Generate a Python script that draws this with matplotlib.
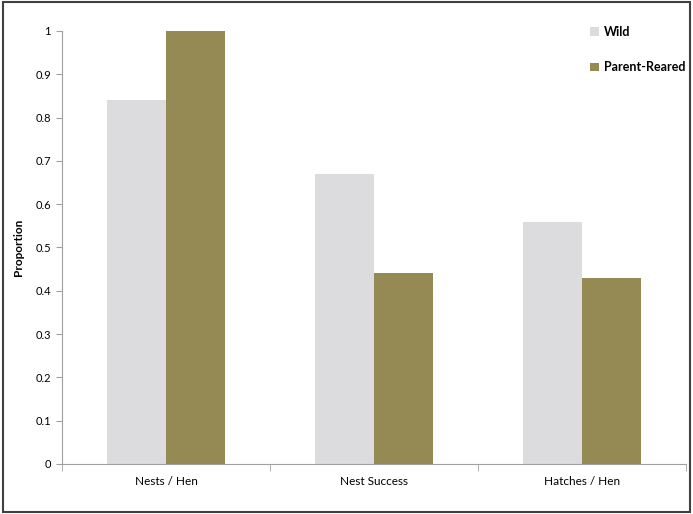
import matplotlib.pyplot as plt
import numpy as np
from matplotlib.patches import Rectangle

categories = ["Nests / Hen", "Nest Success", "Hatches / Hen"]
wild = [0.84, 0.67, 0.56]
parent_reared = [1.0, 0.44, 0.43]

plt.rcParams['font.family'] = ['Lato', 'DejaVu Sans']

fig = plt.figure(figsize=(6.93, 5.14), dpi=100)
ax = fig.add_axes([0.0895, 0.0973, 0.9005, 0.8424])

x = np.arange(len(categories))
w = 0.284
ax.bar(x - w / 2, wild, w, color='#dcdcde', label='Wild')
ax.bar(x + w / 2, parent_reared, w, color='#958a54', label='Parent-Reared')

ax.set_xlim(-0.5, 2.5)
ax.set_ylim(0, 1)
ax.set_yticks(np.arange(0, 1.01, 0.1))
ax.set_yticklabels(['0', '0.1', '0.2', '0.3', '0.4', '0.5', '0.6', '0.7', '0.8', '0.9', '1'])
ax.set_xticks(x)
ax.set_xticklabels(categories)
ax.set_xticks([-0.5, 0.5, 1.5, 2.5], minor=True)
ax.tick_params(axis='x', which='major', length=0, pad=9, labelsize=8.5)
ax.tick_params(axis='x', which='minor', length=5, color='#a0a0a0', direction='out')
ax.tick_params(axis='y', length=4, color='#a0a0a0', labelsize=8, pad=4)

for s in ['top', 'right']:
    ax.spines[s].set_visible(False)
for s in ['left', 'bottom']:
    ax.spines[s].set_color('#a0a0a0')
    ax.spines[s].set_linewidth(0.8)

ax.set_ylabel('Proportion', fontweight='bold', fontsize=8.5, labelpad=8)

ax.legend(loc='upper left', bbox_to_anchor=(0.835, 0.972), bbox_transform=fig.transFigure,
          frameon=False, handlelength=0.7, handleheight=0.7, handletextpad=0.4,
          labelspacing=1.9, prop={'weight': 'bold', 'size': 9})

# outer chart border
fig.patches.append(Rectangle((0.004, 0.004), 0.992, 0.992, transform=fig.transFigure,
                             fill=False, edgecolor='#404040', linewidth=1.5))

fig.savefig('out.png', dpi=100)
